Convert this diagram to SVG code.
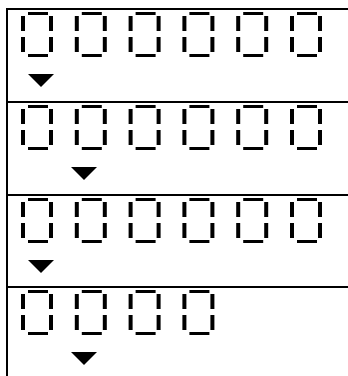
<svg xmlns="http://www.w3.org/2000/svg" xmlns:xlink="http://www.w3.org/1999/xlink" width="348" height="376" viewBox="0 0 348 376">
<style>
.seg{fill:#000}
.rule{fill:#000}
.cursor{fill:#000}
</style>
<defs>
<g id="digit0">
<rect class="seg" x="7" y="0" width="20" height="3"/>
<rect class="seg" x="0" y="4" width="4" height="15"/>
<rect class="seg" x="0" y="25" width="4" height="15"/>
<rect class="seg" x="28" y="4" width="4" height="15"/>
<rect class="seg" x="28" y="25" width="4" height="15"/>
<rect class="seg" x="7" y="42" width="20" height="3"/>
</g>
<polygon id="tri" class="cursor" points="0,0 26,0 13,13"/>
</defs>
<rect width="348" height="376" fill="#fff"/>
<g id="frame">
<rect class="rule" x="6" y="8" width="2" height="368"/>
<rect class="rule" x="6" y="8" width="342" height="2"/>
<rect class="rule" x="6" y="101" width="342" height="2"/>
<rect class="rule" x="6" y="194" width="342" height="2"/>
<rect class="rule" x="6" y="286" width="342" height="2"/>
</g>
<g id="row1">
<use xlink:href="#digit0" x="21" y="12"/>
<use xlink:href="#digit0" x="74.8" y="12"/>
<use xlink:href="#digit0" x="128.6" y="12"/>
<use xlink:href="#digit0" x="182.4" y="12"/>
<use xlink:href="#digit0" x="236.2" y="12"/>
<use xlink:href="#digit0" x="290" y="12"/>
<use xlink:href="#tri" x="28" y="74"/>
</g>
<g id="row2">
<use xlink:href="#digit0" x="21" y="105"/>
<use xlink:href="#digit0" x="74.8" y="105"/>
<use xlink:href="#digit0" x="128.6" y="105"/>
<use xlink:href="#digit0" x="182.4" y="105"/>
<use xlink:href="#digit0" x="236.2" y="105"/>
<use xlink:href="#digit0" x="290" y="105"/>
<use xlink:href="#tri" x="71" y="167"/>
</g>
<g id="row3">
<use xlink:href="#digit0" x="21" y="198"/>
<use xlink:href="#digit0" x="74.8" y="198"/>
<use xlink:href="#digit0" x="128.6" y="198"/>
<use xlink:href="#digit0" x="182.4" y="198"/>
<use xlink:href="#digit0" x="236.2" y="198"/>
<use xlink:href="#digit0" x="290" y="198"/>
<use xlink:href="#tri" x="28" y="260"/>
</g>
<g id="row4">
<use xlink:href="#digit0" x="21" y="290"/>
<use xlink:href="#digit0" x="74.8" y="290"/>
<use xlink:href="#digit0" x="128.6" y="290"/>
<use xlink:href="#digit0" x="182.4" y="290"/>
<use xlink:href="#tri" x="71" y="352"/>
</g>
<g id="connectors"></g>
</svg>
